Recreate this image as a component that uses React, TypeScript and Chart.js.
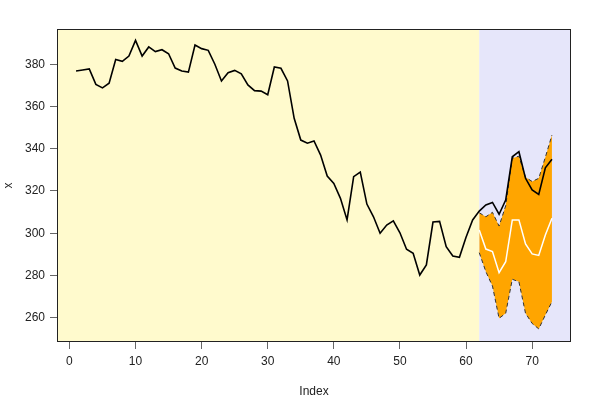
import React, { useEffect, useRef } from "react";
import { Chart, registerables } from "chart.js";

Chart.register(...registerables);

// Observed series, Index 1..73
const actual: number[] = [
  376.8, 377.3, 377.8, 370.5, 368.8, 371.0, 382.3, 381.4, 383.9, 391.3,
  383.9, 388.2, 386.0, 386.9, 385.0, 378.2, 376.8, 376.3, 389.1, 387.4,
  386.6, 380.0, 372.1, 376.0, 377.1, 375.5, 370.2, 367.5, 367.3, 365.6,
  378.7, 378.1, 372.1, 354.4, 344.1, 342.6, 343.7, 337.0, 327.1, 323.6,
  316.5, 306.3, 326.8, 329.0, 313.8, 307.8, 300.0, 303.9, 305.9, 300.2,
  292.4, 290.5, 280.2, 285.0, 305.3, 305.6, 293.6, 289.2, 288.6, 298.1,
  306.3, 310.5, 313.4, 314.6, 309.0, 315.7, 336.2, 338.6, 326.0, 320.5,
  318.4, 331.0, 335.0,
];

// Forecast section, Index 62..73
const forecastStart = 62;
const upperBand: number[] = [309.7, 307.8, 309.9, 303.4, 313.0, 335.5, 336.5, 326.5, 324.5, 326.0, 336.0, 346.5];
const forecast: number[] = [301.5, 292.5, 291.3, 281.3, 286.5, 306.3, 306.3, 294.9, 290.2, 289.5, 299.2, 307.1];
const lowerBand: number[] = [290.8, 281.8, 275.0, 259.7, 262.1, 278.2, 277.0, 262.1, 257.3, 254.7, 261.3, 267.6];

const xTickValues: number[] = [0, 10, 20, 30, 40, 50, 60, 70];
const yTickValues: number[] = [260, 280, 300, 320, 340, 360, 380];

const FONT = "'Liberation Sans', Arial, Helvetica, sans-serif";

export default function App() {
  const ref = useRef<HTMLCanvasElement>(null);

  useEffect(() => {
    if (!ref.current) return;

    const toPts = (vals: number[], start: number) =>
      vals.map((v, i) => ({ x: start + i, y: v }));

    const bgPlugin = {
      id: "bgPlugin",
      beforeDraw(chart: any) {
        const { ctx, chartArea: a, scales } = chart;
        const split = scales.x.getPixelForValue(forecastStart);
        ctx.save();
        ctx.fillStyle = "#FFFACD";
        ctx.fillRect(a.left, a.top, split - a.left, a.bottom - a.top);
        ctx.fillStyle = "#E6E6FA";
        ctx.fillRect(split, a.top, a.right - split, a.bottom - a.top);
        ctx.restore();
      },
      afterDraw(chart: any) {
        const { ctx, chartArea: a } = chart;
        ctx.save();
        ctx.strokeStyle = "#222";
        ctx.lineWidth = 1;
        ctx.strokeRect(a.left + 0.5, a.top + 0.5, a.right - a.left - 1, a.bottom - a.top - 1);
        ctx.restore();
      },
    };

    const chart = new Chart(ref.current, {
      type: "line",
      data: {
        datasets: [
          {
            label: "x",
            data: toPts(actual, 1),
            borderColor: "#000",
            borderWidth: 1.6,
            pointRadius: 0,
            tension: 0,
            fill: false,
            order: 0,
          },
          {
            label: "forecast",
            data: toPts(forecast, forecastStart),
            borderColor: "#FFFFFF",
            borderWidth: 1.5,
            pointRadius: 0,
            tension: 0,
            fill: false,
            order: 1,
          },
          {
            label: "upper",
            data: toPts(upperBand, forecastStart),
            borderColor: "#333",
            borderWidth: 1,
            borderDash: [4, 3],
            backgroundColor: "#FFA500",
            pointRadius: 0,
            tension: 0,
            fill: 3,
            order: 2,
          },
          {
            label: "lower",
            data: toPts(lowerBand, forecastStart),
            borderColor: "#333",
            borderWidth: 1,
            borderDash: [4, 3],
            pointRadius: 0,
            tension: 0,
            fill: false,
            order: 3,
          },
        ],
      },
      options: {
        animation: false,
        responsive: false,
        devicePixelRatio: 1,
        layout: { padding: { top: 29, right: 29, left: 0, bottom: 0 } },
        plugins: {
          legend: { display: false },
          tooltip: { enabled: false },
          filler: { drawTime: "beforeDatasetsDraw" },
        } as any,
        scales: {
          x: {
            type: "linear",
            min: -1.88,
            max: 75.88,
            afterBuildTicks: (s: any) => {
              s.ticks = xTickValues.map((v) => ({ value: v }));
            },
            afterFit: (s: any) => {
              s.height = 58;
            },
            grid: {
              drawOnChartArea: false,
              drawTicks: true,
              tickLength: 7,
              color: "#666",
            },
            border: { display: false },
            ticks: {
              color: "#222",
              padding: 5,
              maxRotation: 0,
              autoSkip: false,
              font: { family: FONT, size: 12 },
            },
            title: {
              display: true,
              text: "Index",
              color: "#222",
              font: { family: FONT, size: 12 },
              padding: { top: 0, bottom: 1 },
            },
          },
          y: {
            type: "linear",
            min: 248.5,
            max: 396.7,
            afterBuildTicks: (s: any) => {
              s.ticks = yTickValues.map((v) => ({ value: v }));
            },
            afterFit: (s: any) => {
              s.width = 57;
            },
            grid: {
              drawOnChartArea: false,
              drawTicks: true,
              tickLength: 7,
              color: "#666",
            },
            border: { display: false },
            ticks: {
              color: "#222",
              padding: 5,
              autoSkip: false,
              font: { family: FONT, size: 12 },
            },
            title: {
              display: true,
              text: "x",
              color: "#222",
              font: { family: FONT, size: 12 },
              padding: { top: 1, bottom: 0 },
            },
          },
        },
      },
      plugins: [bgPlugin],
    });

    return () => chart.destroy();
  }, []);

  return (
    <div style={{ position: "absolute", left: 0, top: 0, width: 600, height: 400, background: "#fff" }}>
      <canvas ref={ref} width={600} height={400} style={{ width: 600, height: 400, display: "block" }} />
    </div>
  );
}
